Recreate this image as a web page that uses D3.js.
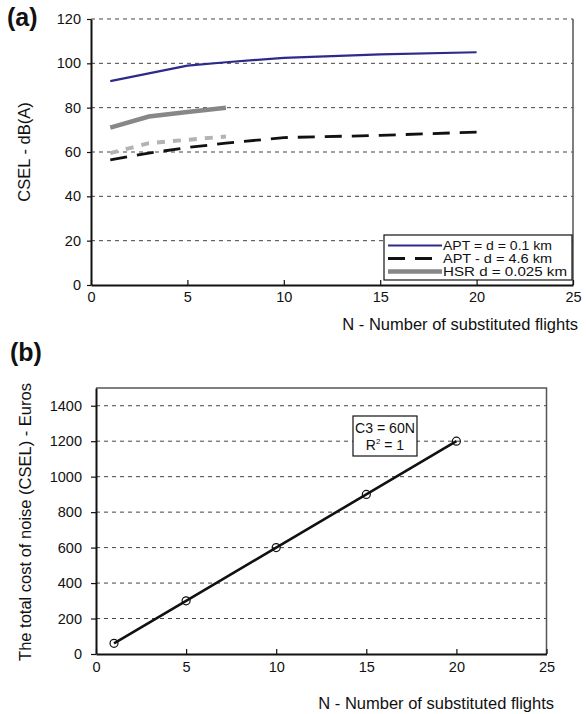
<!DOCTYPE html>
<html>
<head>
<meta charset="utf-8">
<script src="https://cdn.jsdelivr.net/npm/d3@7"></script>
<style>
body { margin: 0; background: #fff; }
text { font-family: "Liberation Sans", Arial, Helvetica, sans-serif; fill: #111; }
</style>
</head>
<body>
<div id="chart"></div>
<script>
// panel (a) data
var flightsA = [1, 3, 5, 7, 10, 15, 20];
var aptNear = [92, 95.5, 99, 100.5, 102.5, 104, 105];
var aptFar = [56.5, 59.5, 62, 64, 66.5, 67.5, 69];
var flightsHsr = [1, 3, 5, 7];
var hsrNear = [71, 76, 78, 80];
var hsrFar = [59.5, 64, 65.5, 67];
var ticksXA = [0, 5, 10, 15, 20, 25];
var ticksYA = [0, 20, 40, 60, 80, 100, 120];
var legendA = ["APT = d = 0.1 km", "APT - d = 4.6 km", "HSR d = 0.025 km"];

// panel (b) data
var flightsB = [1, 5, 10, 15, 20];
var costB = [60, 300, 600, 900, 1200];
var ticksXB = [0, 5, 10, 15, 20, 25];
var ticksYB = [0, 200, 400, 600, 800, 1000, 1200, 1400];

var svg = d3.select("#chart").append("svg")
	.attr("width", 586)
	.attr("height", 714);

var fmt = d3.format("d");

function pairs(xs, ys) {
	return xs.map(function(x, i) { return [x, ys[i]]; });
}

// shared axis styling
function styleAxis(ax) {
	ax.select(".domain").attr("stroke", "#111").attr("stroke-width", 2);
	ax.selectAll(".tick line").attr("stroke", "#111").attr("stroke-width", 1.2);
	ax.selectAll("text").attr("font-size", 14.5).attr("fill", "#111")
		.style("font-family", "'Liberation Sans', Arial, sans-serif");
}

// ---------- panel (a) ----------
var a = { left: 91, right: 573, top: 19, bottom: 285 };
var xA = d3.scaleLinear().domain([0, 25]).range([a.left, a.right]);
var yA = d3.scaleLinear().domain([0, 120]).range([a.bottom, a.top]);

var gA = svg.append("g");

// gridlines
gA.selectAll(".grid")
	.data(ticksYA.filter(function(d) { return d > 0; }))
	.enter().append("line")
	.attr("x1", a.left).attr("x2", a.right)
	.attr("y1", function(d) { return yA(d); })
	.attr("y2", function(d) { return yA(d); })
	.attr("stroke", "#444")
	.attr("stroke-width", 1)
	.attr("stroke-dasharray", "4,4");

// right border
gA.append("line")
	.attr("x1", a.right).attr("x2", a.right)
	.attr("y1", a.top).attr("y2", a.bottom)
	.attr("stroke", "#555").attr("stroke-width", 1.5);

var axA = gA.append("g")
	.attr("transform", "translate(0," + a.bottom + ")")
	.call(d3.axisBottom(xA).tickValues(ticksXA).tickFormat(fmt)
		.tickSize(-5).tickSizeOuter(0).tickPadding(7));
var ayA = gA.append("g")
	.attr("transform", "translate(" + a.left + ",0)")
	.call(d3.axisLeft(yA).tickValues(ticksYA).tickFormat(fmt)
		.tickSize(4).tickSizeOuter(0).tickPadding(6));
styleAxis(axA);
styleAxis(ayA);

// series lines
var lineA = d3.line()
	.x(function(d) { return xA(d[0]); })
	.y(function(d) { return yA(d[1]); });

gA.append("path")
	.datum(pairs(flightsHsr, hsrFar))
	.attr("d", lineA)
	.attr("fill", "none")
	.attr("stroke", "#b3b3b3")
	.attr("stroke-width", 4)
	.attr("stroke-dasharray", "8,8");

gA.append("path")
	.datum(pairs(flightsA, aptFar))
	.attr("d", lineA)
	.attr("fill", "none")
	.attr("stroke", "#111")
	.attr("stroke-width", 2.8)
	.attr("stroke-dasharray", "17,10");

gA.append("path")
	.datum(pairs(flightsHsr, hsrNear))
	.attr("d", lineA)
	.attr("fill", "none")
	.attr("stroke", "#878787")
	.attr("stroke-width", 4.5);

gA.append("path")
	.datum(pairs(flightsA, aptNear))
	.attr("d", lineA)
	.attr("fill", "none")
	.attr("stroke", "#2e2a8c")
	.attr("stroke-width", 2.2);

// legend
var legStyles = [
	{ stroke: "#2e2a8c", width: 2.2, dash: null },
	{ stroke: "#111", width: 2.8, dash: "17,10" },
	{ stroke: "#878787", width: 4.5, dash: null }
];
var leg = gA.append("g").attr("transform", "translate(384,235)");
leg.append("rect")
	.attr("width", 188).attr("height", 45)
	.attr("fill", "#fff").attr("stroke", "#111").attr("stroke-width", 1.2);
legendA.forEach(function(name, i) {
	var yy = 10.5 + i * 13;
	leg.append("line")
		.attr("x1", 4).attr("x2", 58)
		.attr("y1", yy).attr("y2", yy)
		.attr("stroke", legStyles[i].stroke)
		.attr("stroke-width", legStyles[i].width)
		.attr("stroke-dasharray", legStyles[i].dash);
	leg.append("text")
		.attr("x", 59).attr("y", yy + 4.5)
		.attr("font-size", 12.5)
		.attr("textLength", i === 2 ? 124 : 109)
		.attr("lengthAdjust", "spacingAndGlyphs")
		.text(name);
});

// titles
svg.append("text")
	.attr("x", 7).attr("y", 26)
	.attr("font-size", 25).attr("font-weight", "bold")
	.text("(a)");
svg.append("text")
	.attr("transform", "translate(30,152) rotate(-90)")
	.attr("text-anchor", "middle")
	.attr("font-size", 16.5)
	.text("CSEL - dB(A)");
svg.append("text")
	.attr("x", 578).attr("y", 330)
	.attr("text-anchor", "end")
	.attr("font-size", 16.5)
	.text("N - Number of substituted flights");

// ---------- panel (b) ----------
var b = { left: 96, right: 546.5, top: 388, bottom: 654 };
var xB = d3.scaleLinear().domain([0, 25]).range([b.left, b.right]);
var yB = d3.scaleLinear().domain([0, 1500]).range([b.bottom, b.top]);

var gB = svg.append("g");

gB.selectAll(".grid")
	.data(ticksYB.filter(function(d) { return d > 0; }))
	.enter().append("line")
	.attr("x1", b.left).attr("x2", b.right)
	.attr("y1", function(d) { return yB(d); })
	.attr("y2", function(d) { return yB(d); })
	.attr("stroke", "#444")
	.attr("stroke-width", 1)
	.attr("stroke-dasharray", "4,4");

// top and right border
gB.append("path")
	.attr("d", "M" + b.left + "," + b.top + "H" + b.right + "V" + b.bottom)
	.attr("fill", "none")
	.attr("stroke", "#555").attr("stroke-width", 1.5);

var axB = gB.append("g")
	.attr("transform", "translate(0," + b.bottom + ")")
	.call(d3.axisBottom(xB).tickValues(ticksXB).tickFormat(fmt)
		.tickSize(-5).tickSizeOuter(0).tickPadding(8));
var ayB = gB.append("g")
	.attr("transform", "translate(" + b.left + ",0)")
	.call(d3.axisLeft(yB).tickValues(ticksYB).tickFormat(fmt)
		.tickSize(5).tickSizeOuter(0).tickPadding(9));
styleAxis(axB);
styleAxis(ayB);

var lineB = d3.line()
	.x(function(d) { return xB(d[0]); })
	.y(function(d) { return yB(d[1]); });

gB.append("path")
	.datum(pairs(flightsB, costB))
	.attr("d", lineB)
	.attr("fill", "none")
	.attr("stroke", "#111")
	.attr("stroke-width", 2.6);

gB.selectAll(".pt")
	.data(pairs(flightsB, costB))
	.enter().append("circle")
	.attr("cx", function(d) { return xB(d[0]); })
	.attr("cy", function(d) { return yB(d[1]); })
	.attr("r", 4)
	.attr("fill", "none")
	.attr("stroke", "#111")
	.attr("stroke-width", 1.2);

// equation box
var eq = gB.append("g").attr("transform", "translate(353,416)");
eq.append("rect")
	.attr("width", 64).attr("height", 40)
	.attr("fill", "#fff").attr("stroke", "#111").attr("stroke-width", 1.2);
eq.append("text")
	.attr("x", 32).attr("y", 17)
	.attr("text-anchor", "middle")
	.attr("font-size", 14)
	.attr("textLength", 60)
	.attr("lengthAdjust", "spacingAndGlyphs")
	.text("C3 = 60N");
var r2 = eq.append("text")
	.attr("x", 32).attr("y", 34)
	.attr("text-anchor", "middle")
	.attr("font-size", 14);
r2.append("tspan").text("R");
r2.append("tspan").attr("dy", -6).attr("font-size", 8).text("2");
r2.append("tspan").attr("dy", 6).text(" = 1");

svg.append("text")
	.attr("x", 10).attr("y", 361)
	.attr("font-size", 25).attr("font-weight", "bold")
	.text("(b)");
svg.append("text")
	.attr("transform", "translate(31,522) rotate(-90)")
	.attr("text-anchor", "middle")
	.attr("font-size", 16.5)
	.text("The total cost of noise (CSEL) - Euros");
svg.append("text")
	.attr("x", 554).attr("y", 709)
	.attr("text-anchor", "end")
	.attr("font-size", 16.5)
	.text("N - Number of substituted flights");
</script>
</body>
</html>
